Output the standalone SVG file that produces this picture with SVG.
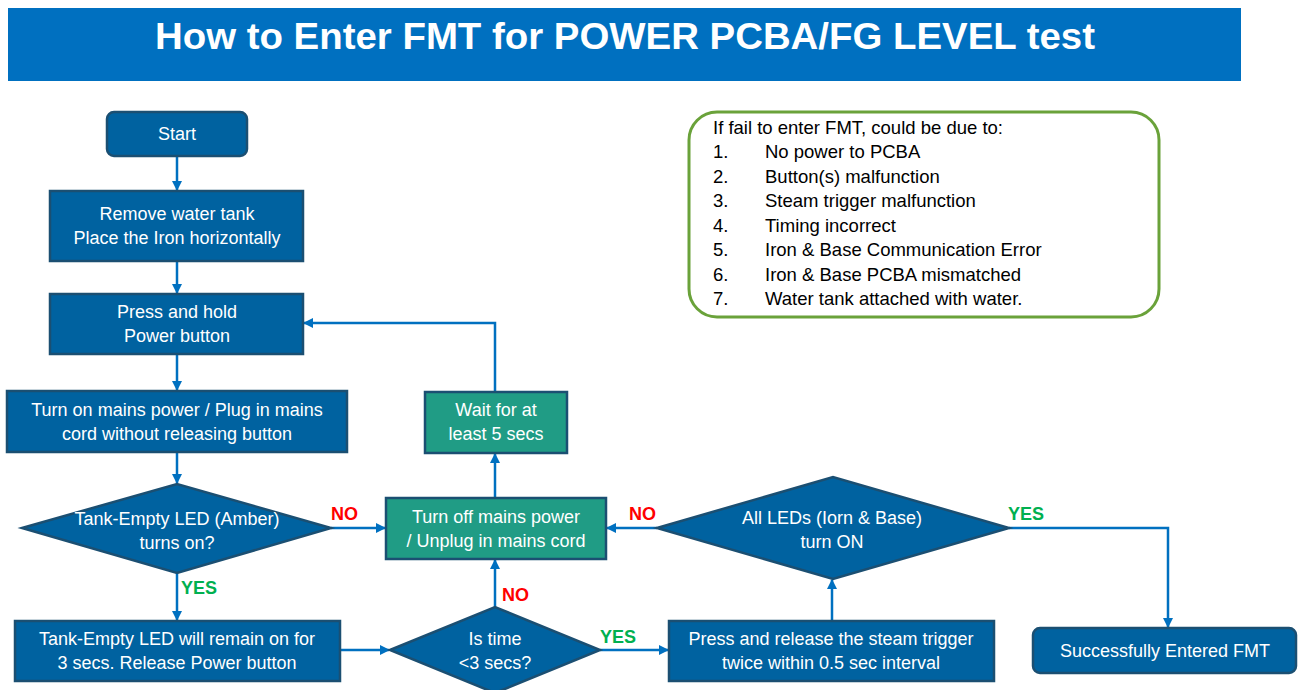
<svg xmlns="http://www.w3.org/2000/svg" width="1298" height="690" viewBox="0 0 1298 690">
<defs>
<marker id="ah" markerWidth="10" markerHeight="10" refX="9" refY="5" orient="auto" markerUnits="userSpaceOnUse"><path d="M0,0 L10,5 L0,10 Z" fill="#0070C0"/></marker>
<style>
.bx{fill:#0062A0;stroke:#1B4F72;stroke-width:2.5}
.tl{fill:#209C85;stroke:#1B4F72;stroke-width:2.5}
.t{font-family:"Liberation Sans",Arial,sans-serif;font-size:18px;fill:#fff;text-anchor:middle}
.n{font-family:"Liberation Sans",Arial,sans-serif;font-size:18.5px;fill:#000}
.c{fill:none;stroke:#0070C0;stroke-width:2.5;marker-end:url(#ah)}
.no{font-family:"Liberation Sans",Arial,sans-serif;font-size:18px;font-weight:bold;fill:#FF0000}
.yes{font-family:"Liberation Sans",Arial,sans-serif;font-size:18px;font-weight:bold;fill:#00B050}
</style>
</defs>
<rect width="1298" height="690" fill="#fff"/>
<g id="title">
<rect x="8" y="8" width="1233" height="73" fill="#0070C0"/>
<text x="155" y="49" font-family="'Liberation Sans',Arial,sans-serif" font-size="37" font-weight="bold" fill="#fff" textLength="940" lengthAdjust="spacingAndGlyphs">How to Enter FMT for POWER PCBA/FG LEVEL test</text>
</g>
<g id="connectors">
<line class="c" x1="177" y1="157" x2="177" y2="190"/>
<line class="c" x1="177" y1="262" x2="177" y2="293"/>
<line class="c" x1="177" y1="355" x2="177" y2="390"/>
<line class="c" x1="177" y1="453" x2="177" y2="483"/>
<line class="c" x1="177" y1="573" x2="177" y2="620"/>
<line class="c" x1="331" y1="528" x2="385" y2="528"/>
<line class="c" x1="341" y1="650" x2="389" y2="650"/>
<line class="c" x1="495" y1="607" x2="495" y2="560"/>
<line class="c" x1="600" y1="650" x2="668" y2="650"/>
<line class="c" x1="832" y1="621" x2="832" y2="580"/>
<line class="c" x1="657" y1="528" x2="607" y2="528"/>
<polyline class="c" points="1009,528 1168,528 1168,627"/>
<line class="c" x1="495" y1="498" x2="495" y2="454"/>
<polyline class="c" points="495,392 495,323 304,323"/>
<text class="no" x="331" y="520">NO</text>
<text class="yes" x="181" y="594">YES</text>
<text class="no" x="502" y="601">NO</text>
<text class="yes" x="600" y="643">YES</text>
<text class="no" x="629" y="520">NO</text>
<text class="yes" x="1008" y="520">YES</text>
</g>
<g id="start">
<rect class="bx" x="107" y="112" width="140" height="44" rx="7"/>
<text class="t" x="177" y="140">Start</text>
</g>
<g id="remove">
<rect class="bx" x="50" y="191" width="253" height="70"/>
<text class="t" x="177" y="220">Remove water tank</text>
<text class="t" x="177" y="244">Place the Iron horizontally</text>
</g>
<g id="press-hold">
<rect class="bx" x="50" y="294" width="253" height="60"/>
<text class="t" x="177" y="318">Press and hold</text>
<text class="t" x="177" y="342">Power button</text>
</g>
<g id="turn-on">
<rect class="bx" x="7" y="391" width="340" height="61"/>
<text class="t" x="177" y="416">Turn on mains power / Plug in mains</text>
<text class="t" x="177" y="440">cord without releasing button</text>
</g>
<g id="decision-amber">
<polygon class="bx" points="22,528 177,484 331,528 177,573"/>
<text class="t" x="177" y="525">Tank-Empty LED (Amber)</text>
<text class="t" x="177" y="549">turns on?</text>
</g>
<g id="tank-empty">
<rect class="bx" x="15" y="621" width="325" height="60"/>
<text class="t" x="177" y="645">Tank-Empty LED will remain on for</text>
<text class="t" x="177" y="669">3 secs. Release Power button</text>
</g>
<g id="wait">
<rect class="tl" x="425" y="392" width="142" height="61"/>
<text class="t" x="496" y="416">Wait for at</text>
<text class="t" x="496" y="440">least 5 secs</text>
</g>
<g id="turn-off">
<rect class="tl" x="386" y="498" width="220" height="61"/>
<text class="t" x="496" y="523">Turn off mains power</text>
<text class="t" x="496" y="547">/ Unplug in mains cord</text>
</g>
<g id="decision-time">
<polygon class="bx" points="390,650 495,607 600,650 495,693"/>
<text class="t" x="495" y="645">Is time</text>
<text class="t" x="495" y="669">&lt;3 secs?</text>
</g>
<g id="press-release">
<rect class="bx" x="669" y="621" width="325" height="60"/>
<text class="t" x="831" y="645">Press and release the steam trigger</text>
<text class="t" x="831" y="669">twice within 0.5 sec interval</text>
</g>
<g id="decision-leds">
<polygon class="bx" points="657,528 833,477 1009,528 833,579"/>
<text class="t" x="832" y="524">All LEDs (Iorn &amp; Base)</text>
<text class="t" x="832" y="548">turn ON</text>
</g>
<g id="success">
<rect class="bx" x="1033" y="628" width="263" height="45" rx="7"/>
<text class="t" x="1165" y="657">Successfully Entered FMT</text>
</g>
<g id="note">
<rect x="689" y="112" width="470" height="205" rx="28" fill="#fff" stroke="#6AA23A" stroke-width="3"/>
<text class="n" x="713" y="134">If fail to enter FMT, could be due to:</text>
<text class="n" x="713" y="158">1.</text><text class="n" x="765" y="158">No power to PCBA</text>
<text class="n" x="713" y="183">2.</text><text class="n" x="765" y="183">Button(s) malfunction</text>
<text class="n" x="713" y="207">3.</text><text class="n" x="765" y="207">Steam trigger malfunction</text>
<text class="n" x="713" y="232">4.</text><text class="n" x="765" y="232">Timing incorrect</text>
<text class="n" x="713" y="256">5.</text><text class="n" x="765" y="256">Iron &amp; Base Communication Error</text>
<text class="n" x="713" y="281">6.</text><text class="n" x="765" y="281">Iron &amp; Base PCBA mismatched</text>
<text class="n" x="713" y="305">7.</text><text class="n" x="765" y="305">Water tank attached with water.</text>
</g>
</svg>
